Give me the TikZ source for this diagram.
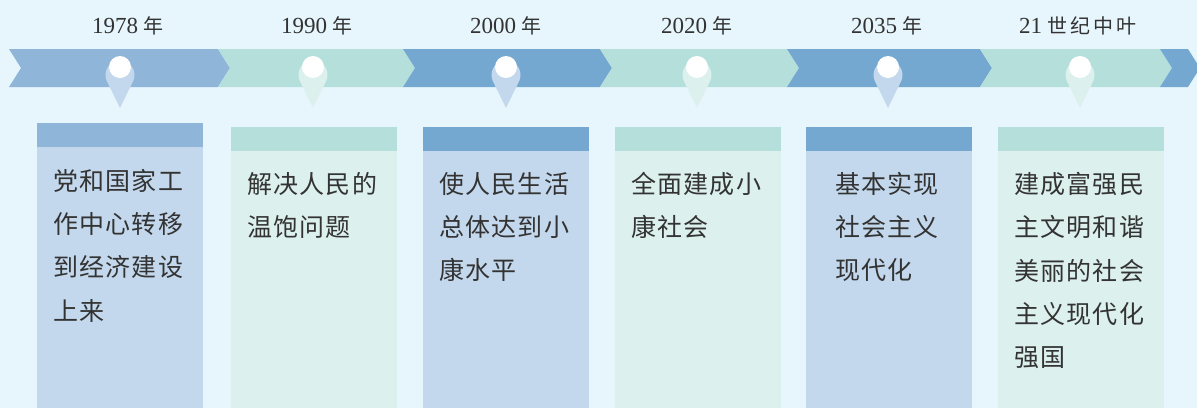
\documentclass[tikz,border=0pt]{standalone}
\usepackage{fontspec}
\usepackage{xcolor}
\setmainfont{Liberation Serif}
\newfontfamily\cjk[LetterSpace=5]{Noto Sans CJK SC}
\newfontfamily\cjkyr[LetterSpace=15]{Noto Sans CJK SC}
\definecolor{bgsky}{HTML}{E7F6FD}
\definecolor{bluelt}{HTML}{8FB5D9}
\definecolor{bluedk}{HTML}{74A8D1}
\definecolor{tealmid}{HTML}{B5DFDB}
\definecolor{bluepale}{HTML}{C3D8EC}
\definecolor{tealpale}{HTML}{DCF0EE}
\definecolor{inkgray}{HTML}{333333}
\newcommand{\nian}[1]{{\cjkyr\fontsize{20}{24}\selectfont #1}}
\tikzset{
  yearlbl/.style={font=\fontsize{23}{26}\selectfont, text=inkgray, anchor=base, inner sep=0pt},
  boxtxt/.style={font=\cjk\fontsize{25}{43.3}\selectfont, text=inkgray, align=left, anchor=north, inner sep=0pt}
}

\begin{document}
\begin{tikzpicture}[x=1pt, y=-1pt]
\useasboundingbox (0,0) rectangle (1197,408);
\fill[bgsky] (0,0) rectangle (1197,408);

\fill[bluelt] (9,49) -- (218,49) -- (230,68) -- (218,87) -- (9,87) -- (21,68) -- cycle;
\fill[tealmid] (218,49) -- (403,49) -- (415,68) -- (403,87) -- (218,87) -- (230,68) -- cycle;
\fill[bluedk] (403,49) -- (600,49) -- (612,68) -- (600,87) -- (403,87) -- (415,68) -- cycle;
\fill[tealmid] (600,49) -- (787,49) -- (799,68) -- (787,87) -- (600,87) -- (612,68) -- cycle;
\fill[bluedk] (787,49) -- (980,49) -- (992,68) -- (980,87) -- (787,87) -- (799,68) -- cycle;
\fill[tealmid] (980,49) -- (1160,49) -- (1172,68) -- (1160,87) -- (980,87) -- (992,68) -- cycle;
\fill[bluedk] (1160,49) -- (1188,49) -- (1200,68) -- (1188,87) -- (1160,87) -- (1172,68) -- cycle;

\foreach \px/\pc in {120/bluepale, 313/tealpale, 506/bluepale, 697/tealpale, 888/bluepale, 1080/tealpale} {
  \fill[\pc] (\px,108) -- (\px+13.03,81.36) arc[start angle=26, end angle=-206, radius=14.5] -- cycle;
  \fill[white] (\px,67) circle (11);
}

\node[yearlbl] (yr1) at (128,33) {1978 \nian{年}};
\node[yearlbl] (yr2) at (317,33) {1990 \nian{年}};
\node[yearlbl] (yr3) at (506,33) {2000 \nian{年}};
\node[yearlbl] (yr4) at (697,33) {2020 \nian{年}};
\node[yearlbl] (yr5) at (887,33) {2035 \nian{年}};
\node[yearlbl] (yr6) at (1078,33) {21 \nian{世纪中叶}};

\fill[bluelt] (37,123) rectangle (203,147);
\fill[bluepale] (37,147) rectangle (203,408);
\fill[tealmid] (231,127) rectangle (397,151);
\fill[tealpale] (231,151) rectangle (397,408);
\fill[bluedk] (423,127) rectangle (589,151);
\fill[bluepale] (423,151) rectangle (589,408);
\fill[tealmid] (615,127) rectangle (781,151);
\fill[tealpale] (615,151) rectangle (781,408);
\fill[bluedk] (806,127) rectangle (972,151);
\fill[bluepale] (806,151) rectangle (972,408);
\fill[tealmid] (998,127) rectangle (1164,151);
\fill[tealpale] (998,151) rectangle (1164,408);

\node[boxtxt] (txt1) at (118,169) {党和国家工\\作中心转移\\到经济建设\\上来};
\node[boxtxt] (txt2) at (312,172) {解决人民的\\温饱问题};
\node[boxtxt] (txt3) at (504,172) {使人民生活\\总体达到小\\康水平};
\node[boxtxt] (txt4) at (696,172) {全面建成小\\康社会};
\node[boxtxt] (txt5) at (887,172) {基本实现\\社会主义\\现代化};
\node[boxtxt] (txt6) at (1079,172) {建成富强民\\主文明和谐\\美丽的社会\\主义现代化\\强国};
\end{tikzpicture}
\end{document}
